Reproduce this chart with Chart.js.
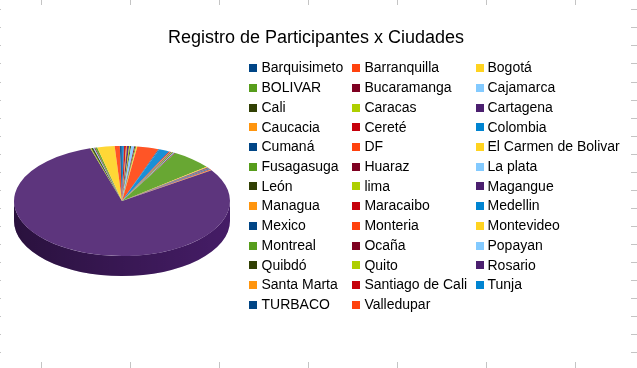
<!DOCTYPE html>
<html><head><meta charset="utf-8">
<script src="https://cdn.jsdelivr.net/npm/chart.js@4.4.0/dist/chart.umd.min.js"></script>
<style>
html,body{margin:0;padding:0;background:#fff;}
#wrap{position:relative;width:637px;height:368px;overflow:hidden;}
#bg{position:absolute;left:0;top:0;}
#chartbox{position:absolute;left:0;top:0;width:637px;height:368px;}
#legend{position:absolute;left:0;top:0;width:637px;height:368px;font-family:"Liberation Sans",Arial,sans-serif;font-size:14px;color:#000;pointer-events:none;}
#title{position:absolute;left:0;width:632px;top:27.5px;text-align:center;font-family:"Liberation Sans",Arial,sans-serif;font-size:18px;line-height:18px;color:#000;white-space:nowrap;}
.it{position:absolute;white-space:nowrap;line-height:14px;}
.sw{position:absolute;width:8px;height:8px;}
</style></head>
<body><div id="wrap"><canvas id="bg" width="637" height="368"></canvas><div id="chartbox"><canvas id="c"></canvas></div><div id="title"></div><div id="legend"></div></div>
<script>
const chartTitle = 'Registro de Participantes x Ciudades';
const categories = ['Barquisimeto','Barranquilla','Bogotá','BOLIVAR','Bucaramanga','Cajamarca','Cali','Caracas','Cartagena','Caucacia','Cereté','Colombia','Cumaná','DF','El Carmen de Bolivar','Fusagasuga','Huaraz','La plata','León','lima','Magangue','Managua','Maracaibo','Medellin','Mexico','Monteria','Montevideo','Montreal','Ocaña','Popayan','Quibdó','Quito','Rosario','Santa Marta','Santiago de Cali','Tunja','TURBACO','Valledupar'];
const participants = [1,1,1,40,1,1,1,1,1,1,1,10,1,21,1,1,1,3,1,1,2,1,2,2,2,5,17,2,1,1,2,1,522,1,1,1,1,1];
const palette = ['#004586','#ff420e','#ffd320','#579d1c','#7e0021','#83caff','#314004','#aecf00','#4b1f6f','#ff950e','#c5000b','#0084d1'];

// background spreadsheet grid ticks
(function(){
  const b = document.getElementById('bg').getContext('2d');
  b.fillStyle='#fff'; b.fillRect(0,0,637,368);
  b.strokeStyle='#c4c4c4'; b.lineWidth=1;
  for(let x=40.5;x<637;x+=89.07){ b.beginPath(); b.moveTo(Math.round(x)+0.5,0); b.lineTo(Math.round(x)+0.5,368); b.stroke(); }
  for(let y=9.3;y<368;y+=18.05){ b.beginPath(); b.moveTo(0,Math.round(y)+0.5); b.lineTo(637,Math.round(y)+0.5); b.stroke(); }
  b.fillStyle='#fff'; b.fillRect(1,5,630,357);
})();

document.getElementById('title').textContent = chartTitle;

function mix(hex, p, toWhite){
  const n=parseInt(hex.slice(1),16); const t=toWhite?255:0;
  const c=[n>>16&255,n>>8&255,n&255].map(v=>Math.round(v+(t-v)*p));
  return 'rgb('+c.join(',')+')';
}
const baseColors = categories.map((_,i)=>palette[i%palette.length]);
const topColors = baseColors.map(c=>mix(c,0.1,true));
// pie is drawn counter-clockwise in data order -> feed reversed copies
const pieLabels = categories.slice().reverse();
const pieValues = participants.slice().reverse();
const pieTop = topColors.slice().reverse();
const pieSide = baseColors.slice().reverse();

const SQUASH = 0.51, DEPTH = 20;
const pie3d = {
  id:'pie3d',
  beforeDatasetsDraw(chart){
    const ctx = chart.ctx;
    const arcs = chart.getDatasetMeta(0).data;
    chart.$pieSaved = false;
    if(!arcs.length) return;
    const cx=arcs[0].x, cy=arcs[0].y, r=arcs[0].outerRadius, ry=r*SQUASH;
    const TAU=Math.PI*2;
    ctx.save();
    arcs.forEach((arc,i)=>{
      const s=((arc.startAngle%TAU)+TAU)%TAU, e=s+(arc.endAngle-arc.startAngle);
      [[0,Math.PI],[TAU,TAU+Math.PI]].forEach(([lo,hi])=>{
        const s2=Math.max(s,lo), e2=Math.min(e,hi);
        if(e2>s2){
          ctx.beginPath();
          ctx.ellipse(cx,cy,r,ry,0,s2,e2,false);
          ctx.ellipse(cx,cy+DEPTH,r,ry,0,e2,s2,true);
          ctx.closePath();
          ctx.fillStyle=pieSide[i]; ctx.fill();
        }
      });
    });
    const g=ctx.createLinearGradient(cx-r,0,cx+r,0);
    g.addColorStop(0,'rgba(0,0,0,0.45)'); g.addColorStop(0.5,'rgba(0,0,0,0.25)'); g.addColorStop(1,'rgba(0,0,0,0.08)');
    ctx.beginPath();
    ctx.ellipse(cx,cy,r,ry,0,0,Math.PI,false);
    ctx.ellipse(cx,cy+DEPTH,r,ry,0,Math.PI,0,true);
    ctx.closePath(); ctx.fillStyle=g; ctx.fill();
    ctx.restore();
    ctx.save();
    ctx.translate(cx,cy); ctx.scale(1,SQUASH); ctx.translate(-cx,-cy);
    chart.$pieSaved = true;
  },
  afterDatasetsDraw(chart){ if(chart.$pieSaved){ chart.ctx.restore(); chart.$pieSaved=false; } }
};

const chart = new Chart(document.getElementById('c'), {
  type:'pie',
  data:{ labels: pieLabels, datasets:[{ data: pieValues, backgroundColor: pieTop, borderWidth:0 }] },
  options:{
    responsive:true, maintainAspectRatio:false, animation:false, events:[],
    rotation:53.25,
    layout:{ padding:{ left:14, right:407, top:93, bottom:59 } },
    plugins:{
      legend:{ display:false },
      tooltip:{ enabled:false },
      title:{ display:false }
    }
  },
  plugins:[pie3d]
});

// legend (3 columns, row-major like the original)
(function(){
  const L=document.getElementById('legend');
  const sqX=[248.5,351.7,475.5], txX=[261.5,364.4,487.5];
  const base0=72.3, pitch=19.72;
  categories.forEach((name,i)=>{
    const r=Math.floor(i/3), c=i%3;
    const bl=base0+r*pitch;
    const sw=document.createElement('div'); sw.className='sw';
    sw.style.left=sqX[c]+'px'; sw.style.top=(bl-8.2)+'px'; sw.style.background=baseColors[i];
    L.appendChild(sw);
    const t=document.createElement('div'); t.className='it';
    t.style.left=txX[c]+'px'; t.style.top=(bl-11.85)+'px'; t.textContent=name;
    L.appendChild(t);
  });
})();
</script>
</body></html>
